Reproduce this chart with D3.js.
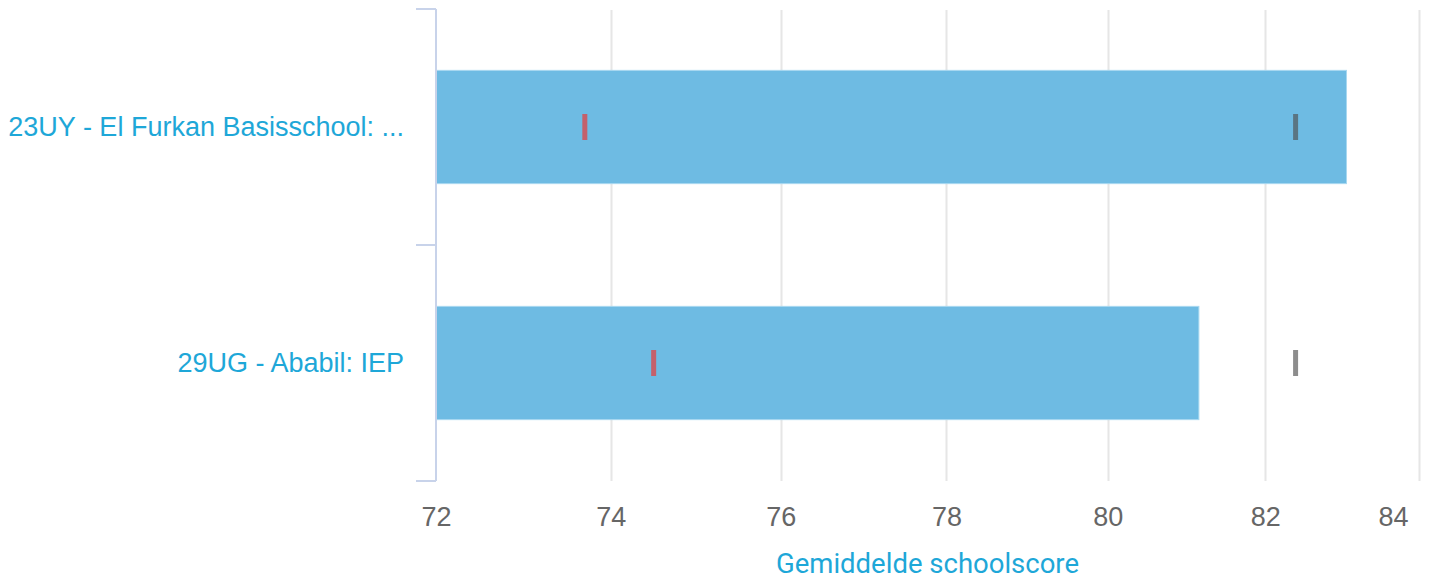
<!DOCTYPE html>
<html><head><meta charset="utf-8">
<script src="https://cdn.jsdelivr.net/npm/d3@7/dist/d3.min.js"></script>
<style>
html,body{margin:0;padding:0;background:#fff;}
svg{display:block;font-family:Roboto,"Noto Sans",sans-serif;}
</style></head>
<body><svg id="c" width="1434" height="585"></svg>
<script>
const categories = ["23UY - El Furkan Basisschool: ...", "29UG - Ababil: IEP"];
const scores = [83.05, 81.15];
const redMarkers = [73.70, 74.50];
const grayMarkers = [82.39, 82.39];
const tickValues = [72, 74, 76, 78, 80, 82, 84];
const axisTitle = "Gemiddelde schoolscore";

(function () {
const svg = d3.select("#c");
const pLeft = 436, pRight = 1419, pTop = 9, pBottom = 481;

const x = d3.scaleLog().domain([72, 84]).range([pLeft, pRight]);
const y = d3.scaleBand().domain(categories).range([pTop, pBottom]).paddingInner(0.52).paddingOuter(0.26);

// gridlines
svg.append("g").selectAll("line").data(tickValues.slice(1)).join("line")
  .attr("x1", d => Math.round(x(d)) + 0.5).attr("x2", d => Math.round(x(d)) + 0.5)
  .attr("y1", pTop + 1).attr("y2", pBottom)
  .attr("stroke", "#e6e6e6").attr("stroke-width", 2);

// bars
svg.append("g").selectAll("rect").data(categories).join("rect")
  .attr("x", pLeft).attr("y", d => y(d))
  .attr("width", (d, i) => x(scores[i]) - pLeft)
  .attr("height", y.bandwidth())
  .attr("fill", "#6ebbe3").attr("stroke", "#a8d8f0").attr("stroke-width", 1);

// markers
const mh = 26, mw = 5;
svg.append("g").selectAll("rect").data(categories).join("rect")
  .attr("x", (d, i) => x(redMarkers[i]) - mw / 2)
  .attr("y", d => y(d) + y.bandwidth() / 2 - mh / 2)
  .attr("width", mw).attr("height", mh)
  .attr("fill", "#c4606b");
svg.append("g").selectAll("rect").data(categories).join("rect")
  .attr("x", (d, i) => x(grayMarkers[i]) - mw / 2)
  .attr("y", d => y(d) + y.bandwidth() / 2 - mh / 2)
  .attr("width", mw).attr("height", mh)
  .attr("fill", "rgb(80,80,80)").attr("fill-opacity", 0.65);

// left axis labels
const yAxis = d3.axisLeft(y).tickSize(0).tickPadding(32);
const gy = svg.append("g").attr("transform", `translate(${pLeft},0)`).call(yAxis);
gy.select(".domain").remove();
gy.selectAll("text").attr("font-size", 27).attr("fill", "#1ea7d8").attr("dy", "0.35em");
const bounds = [pTop, pTop + y.step(), pBottom];
svg.append("line").attr("x1", pLeft).attr("x2", pLeft).attr("y1", pTop).attr("y2", pBottom)
  .attr("stroke", "#c8d3ea").attr("stroke-width", 2);
svg.append("g").selectAll("line").data(bounds).join("line")
  .attr("x1", pLeft - 20).attr("x2", pLeft).attr("y1", d => d).attr("y2", d => d)
  .attr("stroke", "#c8d3ea").attr("stroke-width", 2);

// bottom axis labels
const xAxis = d3.axisBottom(x).tickValues(tickValues).tickSize(0).tickPadding(0).tickFormat(d3.format("d"));
const gx = svg.append("g").attr("transform", `translate(0,${pBottom})`).call(xAxis);
gx.select(".domain").remove();
gx.selectAll("text").attr("font-size", 27).attr("fill", "#666666").attr("dy", null).attr("y", 45)
  .attr("text-anchor", (d, i) => i === tickValues.length - 1 ? "end" : "middle")
  .attr("dx", (d, i) => i === tickValues.length - 1 ? -11 : 0);

svg.append("text").attr("x", (pLeft + pRight) / 2).attr("y", 573)
  .attr("text-anchor", "middle").attr("font-size", 27.5).attr("fill", "#1ea7d8").text(axisTitle);
})();
</script></body></html>
